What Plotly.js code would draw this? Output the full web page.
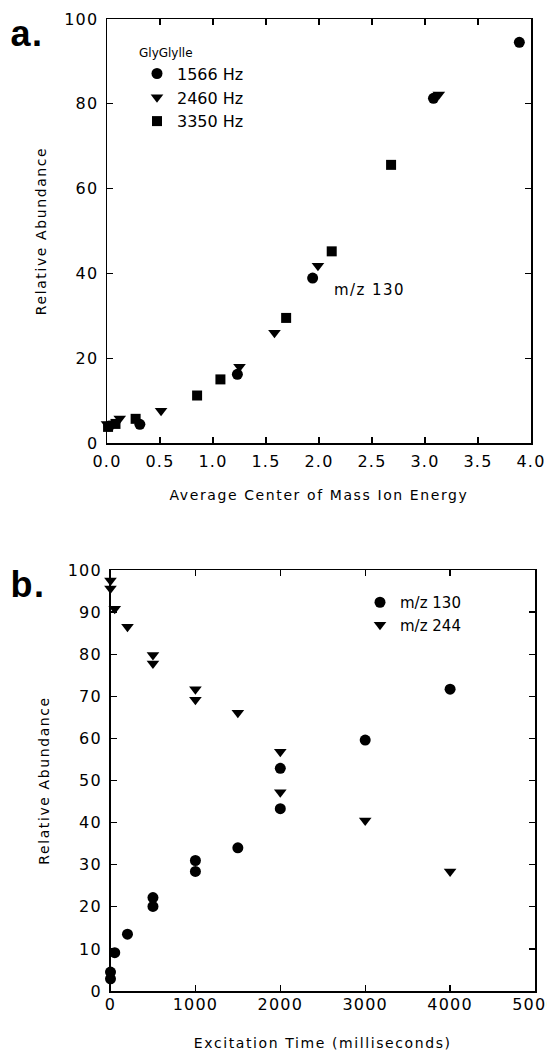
<!DOCTYPE html>
<html>
<head>
<meta charset="utf-8">
<script src="https://cdn.plot.ly/plotly-3.0.1.min.js"></script>
<style>
html,body{margin:0;padding:0;background:#fff;}
#chart{width:547px;height:1051px;}
#chart .xtick text, #chart .ytick text, #chart .x2tick text, #chart .y2tick text{letter-spacing:1.2px;}
#chart .g-xtitle text, #chart .g-ytitle text, #chart .g-x2title text, #chart .g-y2title text{letter-spacing:1.6px;}
#chart .annotation-text{letter-spacing:1.4px;}
</style>
</head>
<body>
<div id="chart"></div>
<script>
// ---- Panel a: GlyGlyIle, m/z 130 vs average center-of-mass ion energy ----
const a1566_x = [0.02, 0.31, 1.23, 1.94, 3.08, 3.89];
const a1566_y = [4.0, 4.4, 16.2, 38.9, 81.3, 94.5];
const a2460_x = [0.00, 0.12, 0.51, 1.25, 1.58, 1.99, 3.13];
const a2460_y = [4.5, 5.8, 7.6, 18.0, 26.0, 41.8, 82.2];
const a3350_x = [0.01, 0.08, 0.27, 0.85, 1.07, 1.69, 2.12, 2.68];
const a3350_y = [3.8, 4.5, 5.7, 11.2, 15.0, 29.5, 45.2, 65.6];

// ---- Panel b: relative abundance vs excitation time ----
const b130_x = [0, 0, 50, 200, 500, 500, 1000, 1000, 1500, 2000, 2000, 3000, 4000];
const b130_y = [2.9, 4.5, 9.1, 13.5, 20.1, 22.2, 28.4, 31.0, 34.0, 43.3, 52.9, 59.6, 71.7];
const b244_x = [0, 0, 50, 200, 500, 500, 1000, 1000, 1500, 2000, 2000, 3000, 4000];
const b244_y = [97.5, 95.6, 90.8, 86.5, 77.8, 79.8, 69.2, 71.7, 66.1, 47.2, 56.8, 40.5, 28.4];

const FONT = 'DejaVu Sans, sans-serif';
const black = '#000000';

function mk(sym, size){ return {symbol: sym, size: size, color: black, line:{width:0}}; }

const traces = [
  {x:a1566_x, y:a1566_y, xaxis:'x', yaxis:'y', mode:'markers', type:'scatter', name:'1566 Hz', marker:mk('circle',11), legend:'legend', cliponaxis:false},
  {x:a2460_x, y:a2460_y, xaxis:'x', yaxis:'y', mode:'markers', type:'scatter', name:'2460 Hz', marker:mk('triangle-down',11), legend:'legend', cliponaxis:false},
  {x:a3350_x, y:a3350_y, xaxis:'x', yaxis:'y', mode:'markers', type:'scatter', name:'3350 Hz', marker:mk('square',10), legend:'legend', cliponaxis:false},
  {x:b130_x, y:b130_y, xaxis:'x2', yaxis:'y2', mode:'markers', type:'scatter', name:'m/z 130', marker:mk('circle',11), legend:'legend2', cliponaxis:false},
  {x:b244_x, y:b244_y, xaxis:'x2', yaxis:'y2', mode:'markers', type:'scatter', name:'m/z 244', marker:mk('triangle-down',11), legend:'legend2', cliponaxis:false}
];

const W = 547, H = 1051;
function px2x(p){ return p / W; }
function py2y(p){ return 1 - p / H; }

const axBase = {
  showline:true, linecolor:black, linewidth:1.5, mirror:'ticks',
  ticks:'inside', ticklen:6, tickwidth:1.3, tickcolor:black,
  showgrid:false, zeroline:false, fixedrange:true, ticklabeloverflow:'allow',
  tickfont:{family:FONT, size:16, color:black}
};

const layout = {
  width:W, height:H,
  margin:{l:0, r:0, t:0, b:0},
  paper_bgcolor:'#fff', plot_bgcolor:'#fff',
  showlegend:true,
  font:{family:FONT, color:black},
  xaxis: Object.assign({}, axBase, {
    domain:[px2x(107), px2x(531)], anchor:'y', range:[0,4], dtick:0.5, tick0:0, tickformat:'.1f',
    ticklabelstandoff:3,
    title:{text:'Average Center of Mass Ion Energy', font:{family:FONT, size:14, color:black}, standoff:20}
  }),
  yaxis: Object.assign({}, axBase, {
    domain:[py2y(443), py2y(19)], anchor:'x', range:[0,100], dtick:20, tick0:0,
    ticklabelstandoff:4,
    title:{text:'Relative Abundance', font:{family:FONT, size:14, color:black}, standoff:18}
  }),
  xaxis2: Object.assign({}, axBase, {
    domain:[px2x(110.5), px2x(535)], anchor:'y2', range:[0,5000], dtick:1000, tick0:0,
    ticklabelstandoff:-2,
    title:{text:'Excitation Time (milliseconds)', font:{family:FONT, size:14, color:black}, standoff:26}
  }),
  yaxis2: Object.assign({}, axBase, {
    domain:[py2y(991), py2y(570)], anchor:'x2', range:[0,100], dtick:10, tick0:0,
    ticklabelstandoff:4,
    title:{text:'Relative Abundance', font:{family:FONT, size:14, color:black}, standoff:18}
  }),
  legend:{
    x:px2x(137), y:py2y(41), xanchor:'left', yanchor:'top',
    bgcolor:'rgba(0,0,0,0)', borderwidth:0,
    font:{family:FONT, size:16, color:black},
    title:{text:'GlyGlylle', font:{family:FONT, size:12, color:black}},
    tracegroupgap:0, itemclick:false, itemdoubleclick:false
  },
  legend2:{
    x:px2x(360), y:py2y(586), xanchor:'left', yanchor:'top',
    bgcolor:'rgba(0,0,0,0)', borderwidth:0,
    font:{family:FONT, size:15, color:black},
    tracegroupgap:0, itemclick:false, itemdoubleclick:false
  },
  annotations:[
    {text:'m/z 130', xref:'x', yref:'y', x:2.17, y:36.1, xanchor:'left', yanchor:'middle', showarrow:false,
     font:{family:FONT, size:15, color:black}},
    {text:'<b>a.</b>', xref:'paper', yref:'paper', x:px2x(10), y:py2y(33), xanchor:'left', yanchor:'middle', showarrow:false,
     font:{family:'Liberation Sans, Arial, sans-serif', size:36, color:black}},
    {text:'<b>b.</b>', xref:'paper', yref:'paper', x:px2x(10), y:py2y(584), xanchor:'left', yanchor:'middle', showarrow:false,
     font:{family:'Liberation Sans, Arial, sans-serif', size:36, color:black}}
  ]
};

Plotly.newPlot('chart', traces, layout, {displayModeBar:false, staticPlot:true});
</script>
</body>
</html>
